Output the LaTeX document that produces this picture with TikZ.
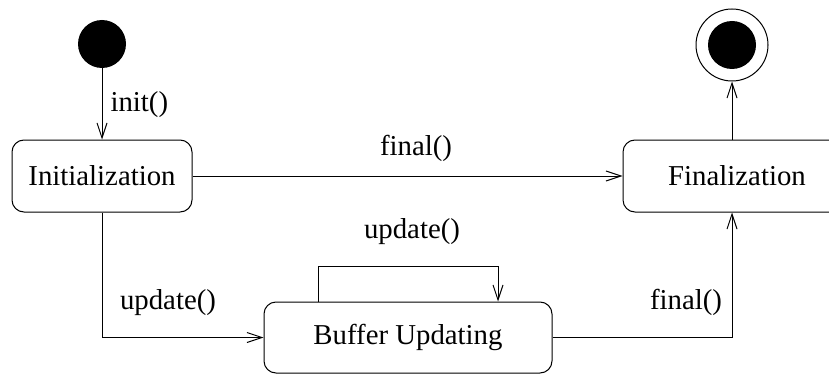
\documentclass[tikz,border=0pt]{standalone}
\usepackage{fontspec}
\setmainfont{Liberation Serif}
\usetikzlibrary{arrows.meta,calc}
\begin{document}
\begin{tikzpicture}[x=0.5pt,y=-0.5pt,
  font=\fontsize{14.4}{17}\selectfont,
  line width=0.5pt,
  state/.style={draw, rounded corners=6pt, minimum height=36pt, inner sep=0pt},
  trans/.style={-{Straight Barb[length=7.5pt,width=5pt]}},
  lbl/.style={inner sep=0pt},
  dot/.style={circle, fill=black, minimum size=24pt, inner sep=0pt}]
\useasboundingbox (0,0) rectangle (829,374);
\clip (0,0) rectangle (829,374);
% states
\node[dot] (start) at (102,44) {};
\node[state, minimum width=90pt] (init) at (102,176) {Initialization};
\node[state, minimum width=114pt] (fin) at (737,176) {Finalization};
\node[state, minimum width=144pt, minimum height=35.5pt] (buf) at (408,337.5) {Buffer Updating};
\node[circle, draw, minimum size=36pt, inner sep=0pt] (end) at (732,45) {};
\node[dot] (endin) at (end) {};
% transitions
\draw[trans] (start) -- (init);
\draw[trans] (init) -- (fin);
\draw[trans] (end |- fin.north) -- (end);
\draw[trans] (init.south) |- (buf.west);
\draw[trans] (buf.east) -| (end |- fin.south);
\draw[trans] ([xshift=-45pt]buf.north) -- ++(0,-35) -| ([xshift=45pt]buf.north);
% labels
\node[lbl, anchor=west] (linit) at (110,105) {init()};
\node[lbl] (lfin1) at (416,148) {final()};
\node[lbl] (lupd1) at (412,232) {update()};
\node[lbl] (lupd2) at (168,303) {update()};
\node[lbl] (lfin2) at (686,302) {final()};
\end{tikzpicture}
\end{document}
